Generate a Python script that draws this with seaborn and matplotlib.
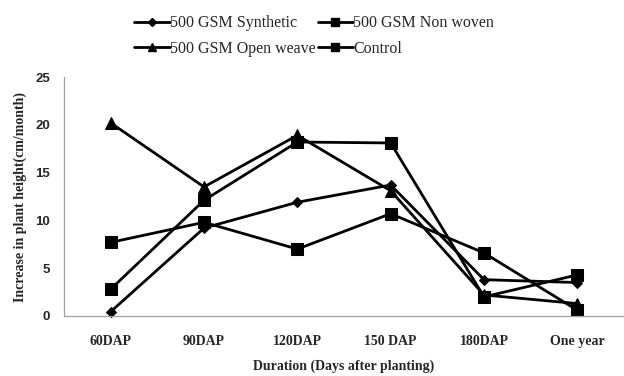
import matplotlib
matplotlib.use("Agg")
import matplotlib.pyplot as plt
import seaborn as sns
import pandas as pd
import numpy as np
from matplotlib.lines import Line2D

durations = ["60DAP", "90DAP", "120DAP", "150 DAP", "180DAP", "One year"]
synthetic = [0.45, 9.2, 11.9, 13.7, 3.8, 3.5]
non_woven = [2.8, 12.1, 18.2, 18.1, 2.0, 4.3]
open_weave = [20.2, 13.5, 18.9, 13.1, 2.2, 1.3]
control = [7.7, 9.8, 7.0, 10.7, 6.6, 0.6]
series_names = ["500 GSM Synthetic", "500 GSM Open weave", "500 GSM Non woven", "Control"]
series_values = [synthetic, open_weave, non_woven, control]
y_ticks = [0, 5, 10, 15, 20, 25]

rows = []
for name, vals in zip(series_names, series_values):
    for i, (d, v) in enumerate(zip(durations, vals)):
        rows.append({"series": name, "pos": i, "Duration": d, "value": v})
df = pd.DataFrame(rows)

sns.set_theme(style="white")
plt.rcParams["font.family"] = ["Liberation Serif", "DejaVu Serif"]

fig = plt.figure(figsize=(6.24, 3.76), dpi=100)
ax = fig.add_axes([64 / 624, 1 - 316 / 376, 1 - 64 / 624, (316 - 77) / 376])

markers = {"500 GSM Synthetic": "D", "500 GSM Open weave": "^",
           "500 GSM Non woven": "s", "Control": "s"}
msizes = {"500 GSM Synthetic": 5.5, "500 GSM Open weave": 8, "500 GSM Non woven": 8, "Control": 8}
lsizes = {"500 GSM Synthetic": 4.5, "500 GSM Open weave": 6, "500 GSM Non woven": 6, "Control": 6}

for name in series_names:
    sub = df[df["series"] == name]
    sns.lineplot(data=sub, x="pos", y="value", ax=ax, color="black", linewidth=2.0,
                 marker=markers[name], markersize=msizes[name], markeredgecolor="black",
                 markerfacecolor="black", clip_on=False, legend=False, sort=False)

ax.set_xlim(-0.5, 5.5)
ax.set_ylim(0, 25)
ax.set_yticks(y_ticks)
ax.set_yticklabels([str(t) for t in y_ticks], fontfamily="Liberation Sans",
                   fontweight="bold", fontsize=9.5)
ax.set_xticks(range(len(durations)))
ax.set_xticklabels(durations, fontweight="bold", fontsize=10)
ax.set_xticks(np.arange(-0.5, 5.6, 1.0), minor=True)
ax.tick_params(axis="x", which="major", length=0, pad=14)
ax.tick_params(axis="x", which="minor", length=5, color="#a0a0a0", direction="out", width=0.8)
ax.tick_params(axis="y", which="major", length=4, color="#a0a0a0", direction="out", width=0.8, pad=6)

for s in ["top", "right"]:
    ax.spines[s].set_visible(False)
for s in ["left", "bottom"]:
    ax.spines[s].set_color("#a0a0a0")
    ax.spines[s].set_linewidth(0.9)

ax.set_xlabel("Duration (Days after planting)", fontweight="bold", fontsize=10, labelpad=8)
ax.set_ylabel("Increase in plant height(cm/month)", fontweight="bold", fontsize=10, labelpad=6)

handles = [Line2D([0], [0], color="black", linewidth=2.0, marker=markers[n],
                  markersize=lsizes[n], markerfacecolor="black") for n in series_names]
fig.legend(handles, series_names, loc="upper left", bbox_to_anchor=(120 / 624, 1 - 1 / 376),
           ncol=2, frameon=False, fontsize=11.5, handlelength=2.2, handletextpad=0.05,
           columnspacing=0.1, labelspacing=0.6)

fig.savefig("out.png", dpi=100)
